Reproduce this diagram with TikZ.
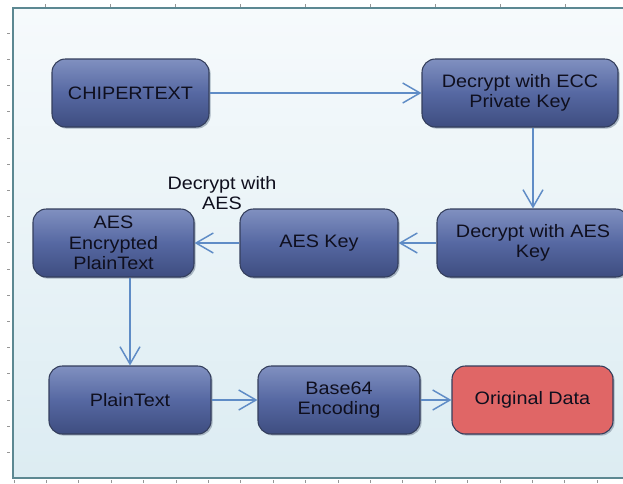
\documentclass[tikz,border=0pt]{standalone}
\usepackage{fontspec}
\setmainfont{Liberation Sans}[FakeStretch=1.1]
\usetikzlibrary{arrows.meta}
\definecolor{bgtop}{RGB}{246,250,252}
\definecolor{bgbot}{RGB}{220,236,242}
\definecolor{frame}{RGB}{92,136,146}
\definecolor{btop}{RGB}{128,144,192}
\definecolor{bmid}{RGB}{86,104,162}
\definecolor{bbot}{RGB}{62,77,128}
\definecolor{bline}{RGB}{52,62,92}
\definecolor{redfill}{RGB}{224,102,102}
\definecolor{arr}{RGB}{95,140,198}
\definecolor{txtc}{RGB}{15,15,30}
\definecolor{tick}{RGB}{150,150,150}
\definecolor{shad}{RGB}{168,182,194}
\tikzset{
  base/.style={draw=bline, line width=0.8pt, rounded corners=10pt,
    minimum height=51pt, inner sep=0pt,
    preaction={draw=none, fill=shad, transform canvas={xshift=1.2pt, yshift=-1.2pt}}},
  box/.style={base, preaction={top color=btop, bottom color=bbot, middle color=bmid}},
  redbox/.style={base, fill=redfill},
  boxtxt/.style={align=center, font=\fontsize{13.5pt}{15.5pt}\selectfont, text=txtc, inner sep=0pt},
  conn/.style={draw=arr, line width=1.1pt,
    -{Straight Barb[length=13pt,width=15pt,line width=1.1pt]}},
  lbl/.style={align=center, font=\fontsize{13.5pt}{15pt}\selectfont, text=txtc},
  tk/.style={draw=tick, line width=0.5pt}
}
\begin{document}
\begin{tikzpicture}[x=0.75pt,y=-0.75pt]
\useasboundingbox (0,0) rectangle (623,483);
\begin{scope}
\clip (0,0) rectangle (623,483);
\fill[top color=bgtop, bottom color=bgbot] (13,8) rectangle (640,478);
\draw[frame, line width=1.6pt] (13,8) rectangle (640,478);
\foreach \i in {0,...,18} { \draw[tk] (14+32.4*\i,480) -- (14+32.4*\i,483); }
\foreach \i in {0,...,8} { \draw[tk] (45+65*\i,4) -- (45+65*\i,6.5); }
\foreach \i in {1,...,17} { \draw[tk] (7,7+26.2*\i) -- (10,7+26.2*\i); }
\end{scope}

\node[box, minimum width=117.75pt] (cipher) at (130.5,93) {};
\node[box, minimum width=147pt] (ecc) at (520,93) {};
\node[box, minimum width=144pt] (decaes) at (533,243) {};
\node[box, minimum width=118.5pt] (aeskey) at (319,243) {};
\node[box, minimum width=120.75pt] (aesenc) at (113.5,243) {};
\node[box, minimum width=121.5pt] (plain) at (130,400) {};
\node[box, minimum width=121.5pt] (b64) at (339,400) {};
\node[redbox, minimum width=120.75pt] (orig) at (532.5,400) {};

\node[boxtxt] (cipher-t) at (cipher) {CHIPERTEXT};
\node[boxtxt] (ecc-t) at (ecc) {Decrypt with ECC\\Private Key};
\node[boxtxt] (decaes-t) at (decaes) {Decrypt with AES\\Key};
\node[boxtxt] (aeskey-t) at (aeskey) {AES Key};
\node[boxtxt] (aesenc-t) at (aesenc) {AES\\Encrypted\\PlainText};
\node[boxtxt] (plain-t) at (plain) {PlainText};
\node[boxtxt] (b64-t) at (b64) {Base64\\Encoding};
\node[boxtxt] (orig-t) at (orig) {Original Data};

\node[lbl] (lab) at (222,193) {Decrypt with\\AES};

\draw[conn] (cipher) -- (ecc);
\draw[conn] (ecc.south -| decaes.north) -- (decaes.north);
\draw[conn] (decaes) -- (aeskey);
\draw[conn] (aeskey) -- (aesenc);
\draw[conn] (aesenc.south -| plain.north) -- (plain.north);
\draw[conn] (plain) -- (b64);
\draw[conn] (b64) -- (orig);
\end{tikzpicture}
\end{document}
